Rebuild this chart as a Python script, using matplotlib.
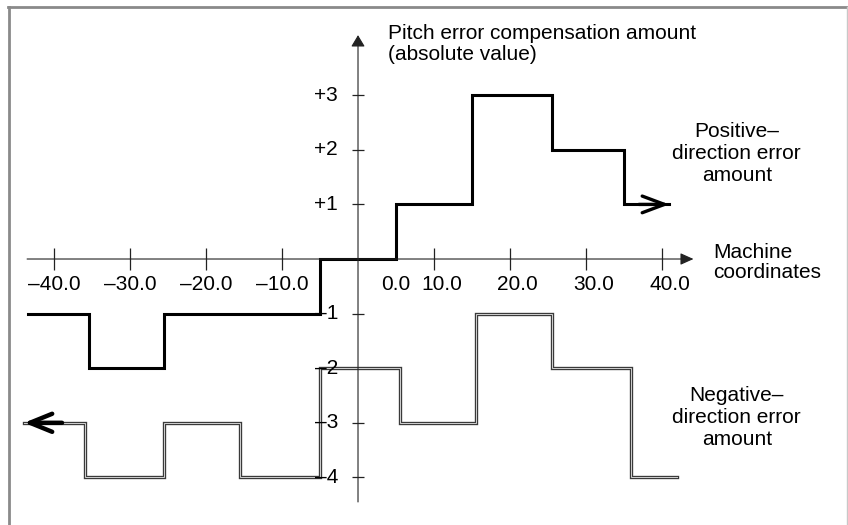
import numpy as np
import matplotlib
matplotlib.use("Agg")
import matplotlib.pyplot as plt
from matplotlib.lines import Line2D

plt.rcParams['font.family'] = ['Liberation Sans', 'DejaVu Sans']

# ---- data ----
pos_breaks = [-43.5, -35.5, -25.5, -5, 5, 15, 25.5, 35, 41]
pos_values = [-1, -2, -1, 0, 1, 3, 2, 1]
neg_breaks = [-44, -36, -25.5, -15.5, -5, 5.5, 15.5, 25.5, 36, 42]
neg_values = [-3, -4, -3, -4, -2, -3, -1, -2, -4]
x_ticks = [-40, -30, -20, -10, 10, 20, 30, 40]
x_tick_labels = ['–40.0', '–30.0', '–20.0', '–10.0', '10.0', '20.0', '30.0', '40.0']
zero_label = '0.0'
y_ticks = [3, 2, 1, -1, -2, -3, -4]
y_tick_labels = ['+3', '+2', '+1', '–1', '–2', '–3', '–4']


def step_xy(breaks, values):
    xs, ys = [], []
    for i, v in enumerate(values):
        xs += [breaks[i], breaks[i + 1]]
        ys += [v, v]
    return xs, ys


W, H = 848, 525
fig = plt.figure(figsize=(W / 100, H / 100), dpi=100)
ax = fig.add_axes([0, 0, 1, 1])
ax.set_xlim(-47.17, 64.56)
ax.set_ylim(-4.872, 4.744)
ax.axis('off')

FS = 15

# frame
fig.add_artist(Line2D([9 / W, 9 / W], [0, 1 - 7 / H], transform=fig.transFigure,
                      color='#8a8a8a', lw=2))
fig.add_artist(Line2D([8 / W, 847 / W], [1 - 7 / H, 1 - 7 / H], transform=fig.transFigure,
                      color='#8a8a8a', lw=2))
fig.add_artist(Line2D([847 / W, 847 / W], [0, 1 - 7 / H], transform=fig.transFigure,
                      color='#c8c8c8', lw=1))

# axes with arrows
ax.annotate('', xy=(44.2, 0), xytext=(-43.6, 0),
            arrowprops=dict(arrowstyle='-|>,head_length=0.8,head_width=0.36',
                            color='#222222', lw=0.8, shrinkA=0, shrinkB=0))
ax.annotate('', xy=(0, 4.1), xytext=(0, -4.45),
            arrowprops=dict(arrowstyle='-|>,head_length=0.7,head_width=0.42',
                            color='#222222', lw=0.8, shrinkA=0, shrinkB=0))

# ticks
ax.plot(x_ticks, [0] * len(x_ticks), ls='none', marker='|', ms=16, mew=0.9, color='#222222')
ax.plot([0] * len(y_ticks), y_ticks, ls='none', marker='_', ms=8, mew=0.9, color='#222222')

for t, lab in zip(x_ticks, x_tick_labels):
    dx = 8 if t > 0 else 0
    ax.annotate(lab, xy=(t, 0), xytext=(dx * 0.72, -25 * 0.72), textcoords='offset points',
                ha='center', va='center', fontsize=FS)
ax.annotate(zero_label, xy=(pos_breaks[4], 0), xytext=(0, -25 * 0.72), textcoords='offset points',
            ha='center', va='center', fontsize=FS)
for t, lab in zip(y_ticks, y_tick_labels):
    ax.annotate(lab, xy=(0, t), xytext=(-20 * 0.72, 0), textcoords='offset points',
                ha='right', va='center', fontsize=FS)

# positive-direction curve
px, py = step_xy(pos_breaks, pos_values)
ax.plot(px, py, color='black', lw=2.2, solid_joinstyle='miter')
ax.annotate('', xy=(pos_breaks[-1], pos_values[-1]), xytext=(pos_breaks[-2] + 2, pos_values[-1]),
            arrowprops=dict(arrowstyle='->,head_length=1.6,head_width=0.6',
                            color='black', lw=2.4, shrinkA=0, shrinkB=0))

# negative-direction curve (double line)
nx, ny = step_xy(neg_breaks, neg_values)
ax.plot(nx, ny, color='#3a3a3a', lw=2.4, solid_joinstyle='miter')
ax.plot(nx, ny, color='#d0d0d0', lw=0.7, solid_joinstyle='miter')
ax.annotate('', xy=(neg_breaks[0], neg_values[0]), xytext=(neg_breaks[0] + 5, neg_values[0]),
            arrowprops=dict(arrowstyle='->,head_length=1.6,head_width=0.65',
                            color='black', lw=3.2, shrinkA=0, shrinkB=0))

# texts
ax.text(3.9, 3.94, 'Pitch error compensation amount\n(absolute value)', ha='left', va='center',
        fontsize=FS, linespacing=1.12)
ax.text(49.9, 1.94, 'Positive–\ndirection error\namount', ha='center', va='center',
        fontsize=FS, linespacing=1.2)
ax.text(46.8, -0.06, 'Machine\ncoordinates', ha='left', va='center',
        fontsize=FS, linespacing=1.08)
ax.text(49.9, -2.91, 'Negative–\ndirection error\namount', ha='center', va='center',
        fontsize=FS, linespacing=1.2)

fig.savefig('out.png', dpi=100)
